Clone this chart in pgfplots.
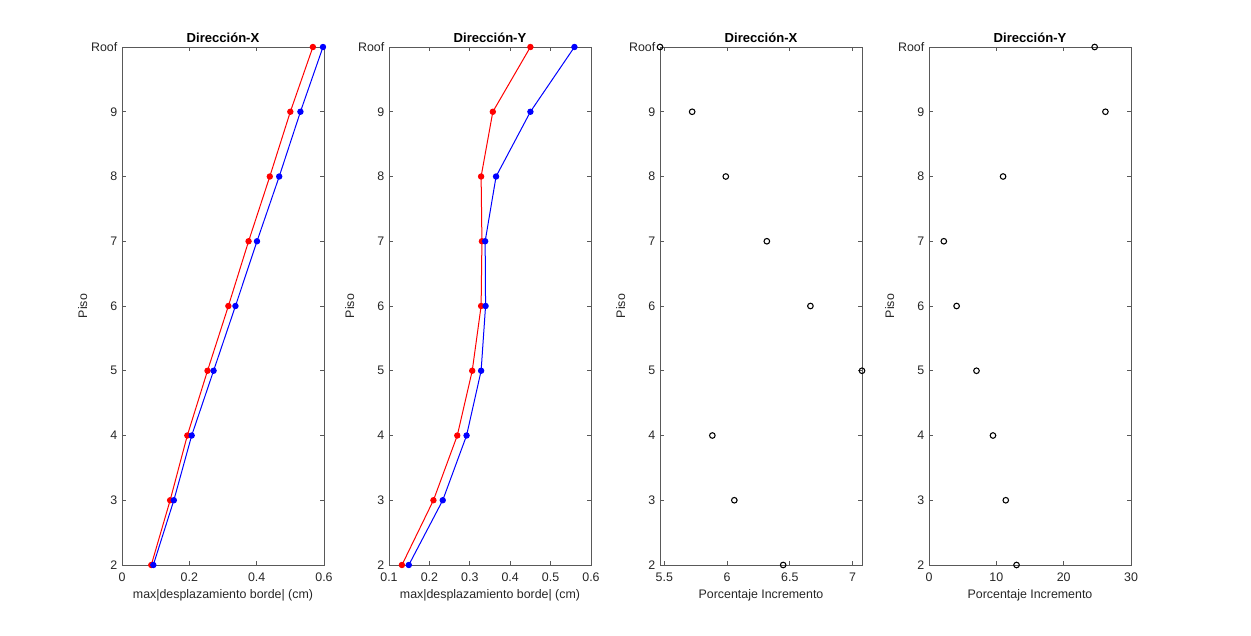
\documentclass[border=0pt]{standalone}
\usepackage{fontspec}
\setmainfont{Liberation Sans}
\usepackage{pgfplots}
\pgfplotsset{compat=1.18}
\definecolor{axgray}{gray}{0.35}
\definecolor{txtgray}{gray}{0.15}
\pgfplotsset{
  floor/.style={
    scale only axis, width=151.5pt, height=388.5pt,
    anchor=south west,
    ymin=2, ymax=10, ytick={2,...,10}, yticklabels={2,3,4,5,6,7,8,9,Roof},
    tick align=inside, major tick length=3pt,
    axis line style={axgray, line width=0.6pt},
    major tick style={axgray, line width=0.5pt},
    tick label style={font=\fontsize{9.3}{10}\selectfont, text=txtgray},
    xticklabel style={yshift=-2.5pt},
    label style={font=\fontsize{9.3}{10}\selectfont, text=txtgray},
    ylabel shift=-4pt,
    xlabel shift=-1pt,
    title style={font=\fontsize{9.8}{11}\selectfont\bfseries, text=black},
    every axis title shift=0pt,
    ylabel={Piso},
    /pgf/number format/assume math mode=true,
  },
  redline/.style={red, line width=0.75pt, mark=*, mark size=2pt, mark options={fill=red, draw=red}},
  blueline/.style={blue, line width=0.75pt, mark=*, mark size=2pt, mark options={fill=blue, draw=blue}},
  opencirc/.style={black, only marks, mark=o, mark size=2.1pt, line width=0.8pt},
}
\begin{document}
\begin{tikzpicture}
\useasboundingbox (0,0) rectangle (938.25pt,476.25pt);
% Panel 1
\begin{axis}[floor, at={(91.5pt,52.5pt)},
  xmin=0, xmax=0.6, xtick={0,0.2,0.4,0.6},
  title={Dirección-X}, xlabel={max|desplazamiento borde| (cm)}]
\addplot[redline] coordinates {(0.087,2)(0.143,3)(0.194,4)(0.254,5)(0.316,6)(0.376,7)(0.439,8)(0.500,9)(0.567,10)};
\addplot[blueline] coordinates {(0.093,2)(0.154,3)(0.207,4)(0.272,5)(0.337,6)(0.401,7)(0.467,8)(0.530,9)(0.597,10)};
\end{axis}
% Panel 2
\begin{axis}[floor, at={(291.75pt,52.5pt)},
  xmin=0.1, xmax=0.6, xtick={0.1,0.2,0.3,0.4,0.5,0.6},
  title={Dirección-Y}, xlabel={max|desplazamiento borde| (cm)}]
\addplot[redline] coordinates {(0.132,2)(0.210,3)(0.269,4)(0.306,5)(0.328,6)(0.330,7)(0.328,8)(0.357,9)(0.450,10)};
\addplot[blueline] coordinates {(0.149,2)(0.233,3)(0.292,4)(0.328,5)(0.339,6)(0.338,7)(0.365,8)(0.450,9)(0.559,10)};
\end{axis}
% Panel 3
\begin{axis}[floor, at={(495pt,52.5pt)}, clip=false,
  xmin=5.466, xmax=7.075, xtick={5.5,6,6.5,7},
  title={Dirección-X}, xlabel={Porcentaje Incremento}]
\addplot[opencirc] coordinates {(6.447,2)(6.058,3)(5.883,4)(7.075,5)(6.664,6)(6.317,7)(5.990,8)(5.722,9)(5.466,10)};
\end{axis}
% Panel 4
\begin{axis}[floor, at={(696.75pt,52.5pt)}, clip=false,
  xmin=0, xmax=30, xtick={0,10,20,30},
  title={Dirección-Y}, xlabel={Porcentaje Incremento}]
\addplot[opencirc] coordinates {(13.0,2)(11.4,3)(9.5,4)(7.05,5)(4.1,6)(2.2,7)(11.0,8)(26.2,9)(24.6,10)};
\end{axis}
\end{tikzpicture}
\end{document}
